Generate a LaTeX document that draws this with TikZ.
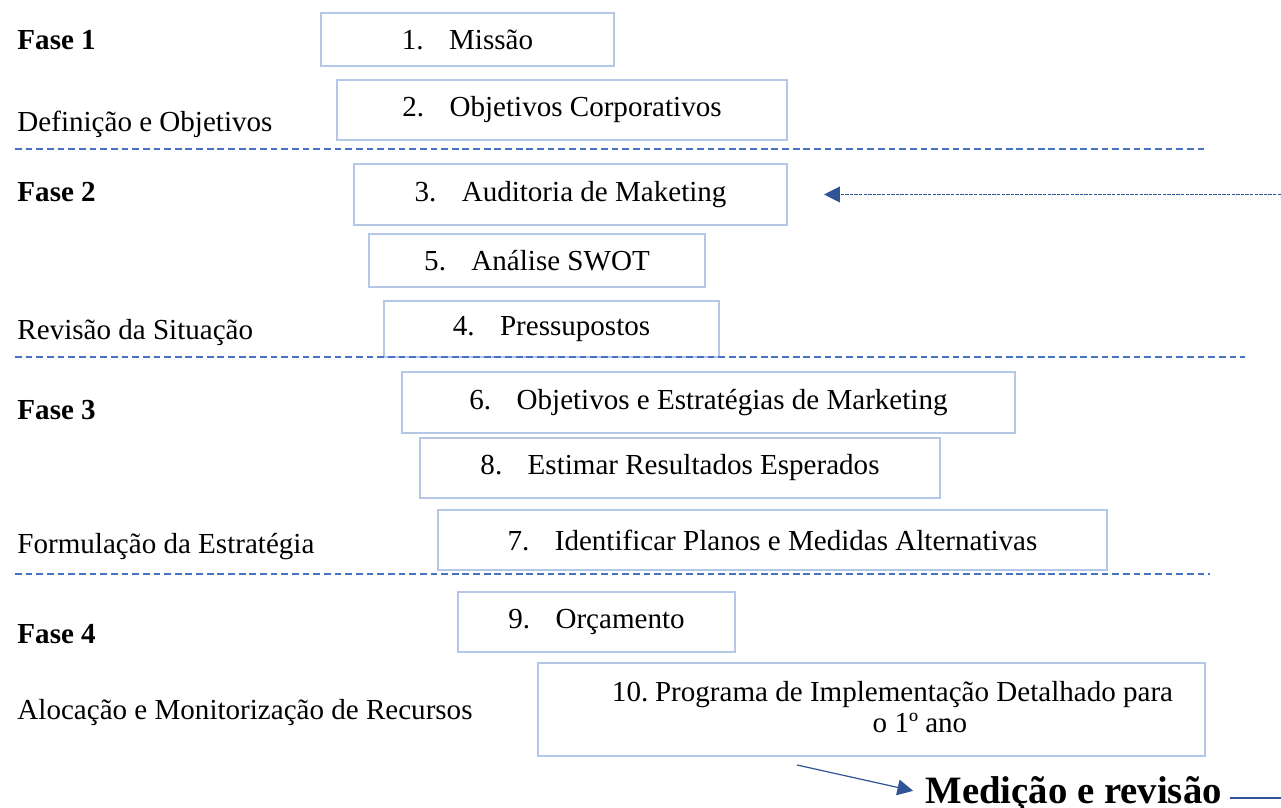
\documentclass[tikz,border=0pt]{standalone}
\usepackage{fontspec}
\setmainfont{Liberation Serif}
\usetikzlibrary{arrows.meta,positioning,calc}
\definecolor{BoxLine}{HTML}{B4C7E7}
\definecolor{DashBlue}{HTML}{4472C4}
\definecolor{ArrowBlue}{HTML}{2F5597}
\newcommand{\passo}[2]{\makebox[19.5pt][l]{#1.}#2}

\begin{document}
\begin{tikzpicture}[x=0.413pt,y=-0.413pt,
    font=\fontsize{12}{14}\selectfont,
    etapa/.style={draw=BoxLine, line width=0.6pt, inner sep=0pt, align=center},
    tam/.style 2 args={minimum width=#1*0.413pt, minimum height=#2*0.413pt},
    fase/.style={anchor=west, inner sep=0pt, font=\fontsize{12}{14}\selectfont\bfseries},
    titulo/.style={anchor=west, inner sep=0pt},
    divisao/.style={draw=DashBlue, line width=0.5pt, dash pattern=on 2.8pt off 1.6pt},
    retorno/.style={draw=ArrowBlue, line width=0.5pt, dash pattern=on 1.4pt off 0.5pt, -{Triangle[length=6.5pt,width=6.5pt]}},
    seta/.style={draw=ArrowBlue, line width=0.5pt, -{Triangle[length=6.5pt,width=6.5pt]}}
]
\useasboundingbox (0,0) rectangle (1281,808);

% fases e titulos
\node[fase] (f1) at (17,40) {Fase 1};
\node[titulo] (t1) at (17,124) {Definição e Objetivos};
\node[fase] (f2) at (17,192) {Fase 2};
\node[titulo] (t2) at (17,333) {Revisão da Situação};
\node[fase] (f3) at (17,410) {Fase 3};
\node[titulo] (t3) at (17,547) {Formulação da Estratégia};
\node[fase] (f4) at (17,634) {Fase 4};
\node[titulo] (t4) at (17,713) {Alocação e Monitorização de Recursos};

% etapas
\node[etapa, tam={293}{53}] (e1) at (467.5,39.5) {\passo{1}{Missão}};
\node[etapa, tam={450}{60}] (e2) at (562,110) {\passo{2}{Objetivos Corporativos}};
\node[etapa, tam={433}{61}] (e3) at (570.5,194.5) {\passo{3}{Auditoria de Maketing}};
\node[etapa, tam={336}{53}] (e5) at (537,260.5) {\passo{5}{Análise SWOT}};
\node[etapa, tam={335}{56}] (e4) at (551.5,329) {\passo{4}{Pressupostos}};
\node[etapa, tam={613}{61}] (e6) at (708.5,402.5) {\passo{6}{Objetivos e Estratégias de Marketing}};
\node[etapa, tam={520}{60}] (e8) at (680,468) {\passo{8}{Estimar Resultados Esperados}};
\node[etapa, tam={669}{60}] (e7) at (772.5,540) {\passo{7}{Identificar Planos e Medidas Alternativas}};
\node[etapa, tam={277}{60}] (e9) at (596.5,622) {\passo{9}{Orçamento}};
\node[etapa, tam={667}{93}] (e10) at (871.5,709.5) {};
\node[align=center, inner sep=0pt, font=\fontsize{12}{12.8}\selectfont] (e10t) at (892.5,707)
    {\makebox[17.8pt][l]{10.}Programa de Implementação Detalhado para\\\hspace*{22.7pt}o 1º ano};

% linhas de separacao
\draw[divisao] (15,149) -- (1207,149);
\draw[divisao] (15,357) -- (1245,357);
\draw[divisao] (15,574) -- (1210,574);

% medicao e revisao
\node[anchor=base west, inner sep=0pt, font=\fontsize{16}{18}\selectfont\bfseries] (med) at (925,803) {Medição e revisão};
\coordinate (m0) at (797,765);
\coordinate (m1) at (1281,798);
\coordinate (r0) at (1281,194.5);
\draw[seta, shorten >=5pt] (m0) -- (med.west);
\draw[draw=ArrowBlue, line width=0.5pt] (med.east |- m1) ++(8,0) -- (m1);
\draw[retorno, shorten >=15pt] (r0) -- (e3.east);
\end{tikzpicture}
\end{document}
